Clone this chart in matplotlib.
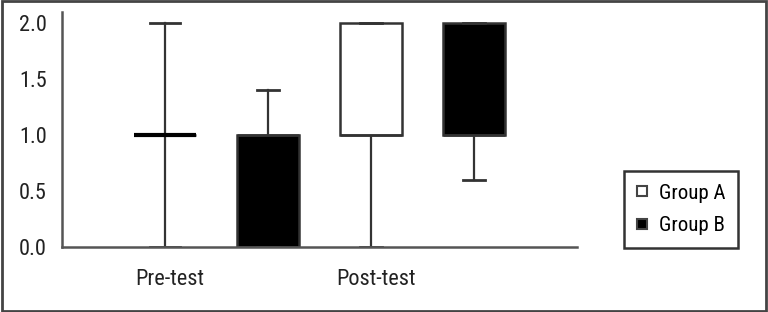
import matplotlib
matplotlib.use("Agg")
import matplotlib.pyplot as plt
from matplotlib.lines import Line2D
from matplotlib.patches import Rectangle
from matplotlib import font_manager

nomes = set(f.name for f in font_manager.fontManager.ttflist)
fonte = [n for n in ['Roboto Condensed', 'Liberation Sans Narrow', 'DejaVu Sans Condensed', 'Roboto'] if n in nomes]
plt.rcParams['font.family'] = fonte[:1] + ['DejaVu Sans']

# valores
grupos = ["Group A", "Group B"]
momentos = ["Pre-test", "Post-test"]
posicoes = [1, 2, 3, 4]
q1 = [1.0, 0.0, 1.0, 1.0]
mediana = [1.0, 1.0, 1.0, 1.0]
q3 = [1.0, 1.0, 2.0, 2.0]
whis_baixo = [0.0, 0.0, 0.0, 0.6]
whis_alto = [2.0, 1.4, 2.0, 2.0]
cores = ["white", "black", "white", "black"]

stats = []
for i in range(4):
    stats.append({"q1": q1[i], "med": mediana[i], "q3": q3[i],
                  "whislo": whis_baixo[i], "whishi": whis_alto[i], "fliers": []})

fig = plt.figure(figsize=(7.68, 3.12), dpi=100)
ax = fig.add_axes([62 / 768, 65 / 312, 515 / 768, 235 / 312])

cor_linha = "#333333"
caixas = ax.bxp(stats, positions=posicoes, widths=0.6, patch_artist=True,
                showfliers=False, capwidths=[0.3, 0.21, 0.21, 0.21],
                boxprops=dict(linewidth=1.8, edgecolor=cor_linha),
                whiskerprops=dict(linewidth=1.6, color=cor_linha),
                capprops=dict(linewidth=2.0, color=cor_linha),
                medianprops=dict(linewidth=3.0, color="black"))
for caixa, cor in zip(caixas["boxes"], cores):
    caixa.set_facecolor(cor)
# mediana coincide com a borda da caixa nos outros casos
for m in caixas["medians"][1:]:
    m.set_linewidth(1.8)
    m.set_color(cor_linha)
for w in caixas["whiskers"]:
    w.set_zorder(1)

ax.set_xlim(0, 5)
ax.set_ylim(0, 2.1)
ax.set_yticks([0.0, 0.5, 1.0, 1.5, 2.0])
ax.set_yticklabels(["0.0", "0.5", "1.0", "1.5", "2.0"])
ax.set_xticks([1.05, 3.05])
ax.set_xticklabels(momentos)
ax.tick_params(axis="both", length=0, labelsize=16, colors="#222222")
ax.tick_params(axis="y", pad=11)
ax.tick_params(axis="x", pad=16)
for lado in ["top", "right"]:
    ax.spines[lado].set_visible(False)
for lado in ["left", "bottom"]:
    ax.spines[lado].set_color("#555555")
    ax.spines[lado].set_linewidth(1.8)

alcas = [Line2D([], [], linestyle="none", marker="s", markersize=7,
                markerfacecolor=c, markeredgecolor="#444444", markeredgewidth=1.5)
         for c in ["white", "black"]]
leg = fig.legend(alcas, grupos, loc="upper right",
                 bbox_to_anchor=(738 / 768, 1 - 171 / 312), borderaxespad=0,
                 fancybox=False, fontsize=15, handlelength=0.6, handletextpad=0.5,
                 labelspacing=0.65, borderpad=0.6, framealpha=1)
leg.get_frame().set_edgecolor("#333333")
leg.get_frame().set_linewidth(1.8)

fig.patches.append(Rectangle((0.002, 0.003), 0.996, 0.994, transform=fig.transFigure,
                             fill=False, edgecolor="#444444", linewidth=2.0))

fig.savefig("out.png", dpi=100)
